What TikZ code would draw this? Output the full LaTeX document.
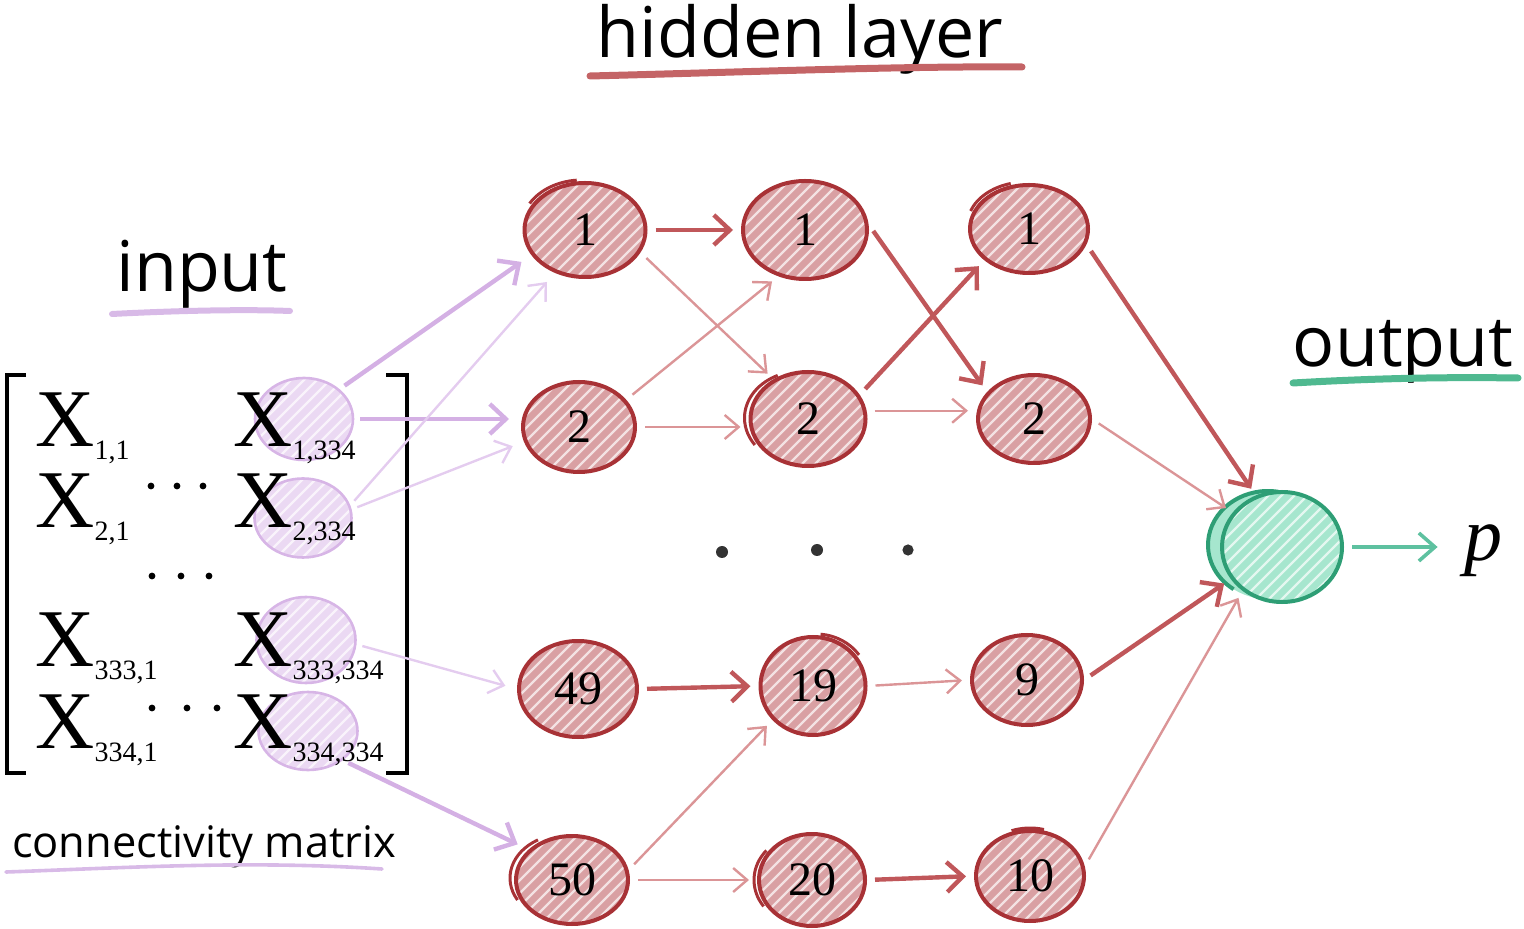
\documentclass[tikz,border=0pt]{standalone}
\usepackage{fontspec}
\setmainfont{Liberation Serif}
\newfontfamily\labfont{Open Sans}
\usetikzlibrary{shapes.geometric,arrows.meta}
\definecolor{hred}{HTML}{A83236}
\definecolor{hfill}{HTML}{D9A0A3}
\definecolor{athick}{HTML}{C0575A}
\definecolor{athin}{HTML}{DB9597}
\definecolor{pline}{HTML}{D7B5E6}
\definecolor{pfill}{HTML}{EBD9F3}
\definecolor{pthick}{HTML}{D4B0E4}
\definecolor{pthin}{HTML}{E4CCEF}
\definecolor{gline}{HTML}{2E9E75}
\definecolor{gfill}{HTML}{A6E6CE}
\definecolor{garrow}{HTML}{5EC1A0}
\definecolor{dotc}{HTML}{333333}
\definecolor{ulred}{HTML}{C46466}
\definecolor{ulpurple}{HTML}{D8BAE7}
\definecolor{ulgreen}{HTML}{4FB990}
\newcommand\Xent[1]{\fontsize{41}{41}\selectfont X\raisebox{-6.5pt}{\fontsize{14}{14}\selectfont #1}}
\newcommand\skarc[6]{\draw[hred,line width=1.5pt] ([shift={(#2)}]#1.center) ++(#3:#5 and #6) arc[start angle=#3,end angle=#4,x radius=#5,y radius=#6];}
\tikzset{
  hatch/.style={path picture={\foreach \k in {-10,...,10}{\draw[white,line width=1.1pt,opacity=.7] ([xshift=\k*6.5pt-35pt,yshift=-35pt]path picture bounding box.center) -- ++(64pt,64pt);}}},
  hnode/.style 2 args={ellipse, draw=hred, line width=2pt, fill=hfill, hatch, minimum width=#1*0.5pt, minimum height=#2*0.5pt, inner sep=0pt, font=\fontsize{24}{24}\selectfont},
  inode/.style 2 args={ellipse, draw=pline, line width=1.3pt, fill=pfill, hatch, minimum width=#1*0.5pt, minimum height=#2*0.5pt, inner sep=0pt},
  onode/.style={ellipse, draw=gline, line width=2pt, fill=gfill, hatch, minimum width=60pt, minimum height=55pt, inner sep=0pt},
  xent/.style={anchor=base west, inner sep=0pt},
  lab/.style={font=\labfont\fontsize{35}{35}\selectfont, inner sep=0pt, anchor=base},
  labsmall/.style={font=\labfont\fontsize{21.7}{22}\selectfont, inner sep=0pt, anchor=base},
  thk/.style={draw=athick, line width=2.2pt, -{Straight Barb[length=8pt,width=15pt]}, shorten <=4pt, shorten >=4pt},
  thn/.style={draw=athin, line width=1.2pt, -{Straight Barb[length=7pt,width=12pt]}, shorten <=4pt, shorten >=4pt},
  pthk/.style={draw=pthick, line width=2.2pt, -{Straight Barb[length=8pt,width=15pt]}, shorten <=3pt, shorten >=6pt},
  pthn/.style={draw=pthin, line width=1.2pt, -{Straight Barb[length=7pt,width=12pt]}, shorten <=3pt, shorten >=6pt},
  garr/.style={draw=garrow, line width=1.8pt, -{Straight Barb[length=8pt,width=14pt]}, shorten <=4pt, shorten >=13pt},
  uline/.style={line cap=round},
}
\begin{document}
\begin{tikzpicture}[x=0.5pt,y=-0.5pt]
\useasboundingbox (0,0) rectangle (1524,929);

% titles
\node[lab] (hl) at (800,58) {hidden layer};
\draw[uline, ulred, line width=3.5pt] (590,76) .. controls (750,72) and (900,66) .. (1022,67);
\node[lab] (inlab) at (202,292) {input};
\draw[uline, ulpurple, line width=3pt] (112,314) .. controls (170,311) and (240,309) .. (290,311);
\node[lab] (outlab) at (1403,367) {output};
\draw[uline, ulgreen, line width=3.5pt] (1293,383) .. controls (1380,378) and (1450,377) .. (1518,378);
\node[labsmall] (cm) at (204,857) {connectivity matrix};
\draw[uline, ulpurple, line width=1.8pt] (6,872) .. controls (120,868) and (250,860) .. (382,869);

% input ellipses
\node[inode={98}{82}] (i1) at (304,419) {};
\node[inode={97}{79}] (i2) at (303,518) {};
\node[inode={99}{86}] (i3) at (306,640) {};
\node[inode={99}{78}] (i4) at (308,731) {};

% matrix entries
\node[xent] (m11) at (35,447) {\Xent{1,1}};
\node[xent] (m1n) at (233,447) {\Xent{1,334}};
\node[xent] (m21) at (35,528) {\Xent{2,1}};
\node[xent] (m2n) at (233,528) {\Xent{2,334}};
\node[xent] (m31) at (35,666) {\Xent{333,1}};
\node[xent] (m3n) at (233,666) {\Xent{333,334}};
\node[xent] (m41) at (35,748) {\Xent{334,1}};
\node[xent] (m4n) at (233,748) {\Xent{334,334}};
\foreach \x/\y in {151/486,177/486,203/486,152/576,181/576,209/576,152/708,187/708,217/708}
  \fill[black] (\x,\y) circle (1.7pt);
% brackets
\draw[line width=2pt] (26,375) -- (7,375) -- (7,773) -- (26,773);
\draw[line width=2pt] (386,375) -- (407,375) -- (407,773) -- (386,773);

% hidden nodes
\node[hnode={121}{94}] (a1) at (585,230) {1};
\node[hnode={112}{90}] (a2) at (579,427) {2};
\node[hnode={118}{96}] (a49) at (578,689) {49};
\node[hnode={112}{88}] (a50) at (572,880) {50};
\node[hnode={124}{98}] (b1) at (805,230) {1};
\node[hnode={115}{94}] (b2) at (808,419) {2};
\node[hnode={105}{98}] (b19) at (813,686) {19};
\node[hnode={106}{92}] (b20) at (812,880) {20};
\node[hnode={118}{88}] (c1) at (1029,229) {1};
\node[hnode={112}{88}] (c2) at (1034,419) {2};
\node[hnode={110}{90}] (c9) at (1027,680) {9};
\node[hnode={108}{90}] (c10) at (1030,876) {10};
% sketchy second strokes
\skarc{a1}{-1.5pt,1.5pt}{95}{150}{30.25pt}{23.5pt}
\skarc{b2}{-3pt,0.5pt}{115}{215}{28.75pt}{23.5pt}
\skarc{a50}{-3pt,1pt}{120}{210}{28pt}{22pt}
\skarc{b20}{-2.5pt,0pt}{140}{215}{26.5pt}{23pt}
\skarc{b19}{1.5pt,1.5pt}{35}{85}{26.25pt}{24.5pt}
\skarc{c1}{-1.5pt,1.5pt}{105}{160}{29.5pt}{22pt}
\skarc{c10}{0pt,1.5pt}{75}{110}{27pt}{22.5pt}

% dots
\fill[dotc] (722,552) circle (3pt);
\fill[dotc] (817,550) circle (3pt);
\fill[dotc] (908,550) circle (2.8pt);

% output
\fill[gfill] (1268,545) ellipse (30pt and 27pt);
\node[onode] (o) at (1282,547) {};
\draw[gline, line width=2pt] ([xshift=-7pt,yshift=1pt]o.center) ++(80:30pt and 27pt) arc[start angle=80, end angle=235, x radius=30pt, y radius=27pt];
\node[font=\fontsize{38}{38}\selectfont\itshape, anchor=base, inner sep=0pt] (p) at (1483,560) {p};

% input arrows
\draw[pthk] (i1.40) -- (a1.205);
\draw[pthk] (i1.east) -- (i1.east -| a2.west);
\draw[pthn] (i2.15) -- (a1.235);
\draw[pthn] (i2.10) -- (a2.195);
\draw[pthn] (i3.-5) -- (a49.180);
\draw[pthk] (i4.-40) -- (a50.145);

% hidden arrows
\draw[thk] (a1.east) -- (b1.west);
\draw[thn] (a1.-22) -- (b2.131);
\draw[thn] (a2.30) -- (b1.240);
\draw[thn] (a2.east) -- (a2.east -| b2.west);
\draw[thk] (b1.5) -- (c2.150);
\draw[thk] (b2.25) -- (c1.215);
\draw[thn] (b2.8) -- (b2.8 -| c2.west);
\draw[thk] (a49.east) -- (b19.west);
\draw[thn] (a50.10) -- (b19.220);
\draw[thn] (a50.east) -- (a50.east -| b20.west);
\draw[thn] (b19.east) -- (c9.west);
\draw[thk] (b20.east) -- (c10.west);
\draw[thk] (c1.-15) -- (o.117);
\draw[thn] (c2.east) -- (o.145);
\draw[thk] (c9.east) -- (o.212);
\draw[thn] (c10.10) -- (o.228);
\draw[garr] (o.east) -- (o.east -| p.west);
\end{tikzpicture}
\end{document}
